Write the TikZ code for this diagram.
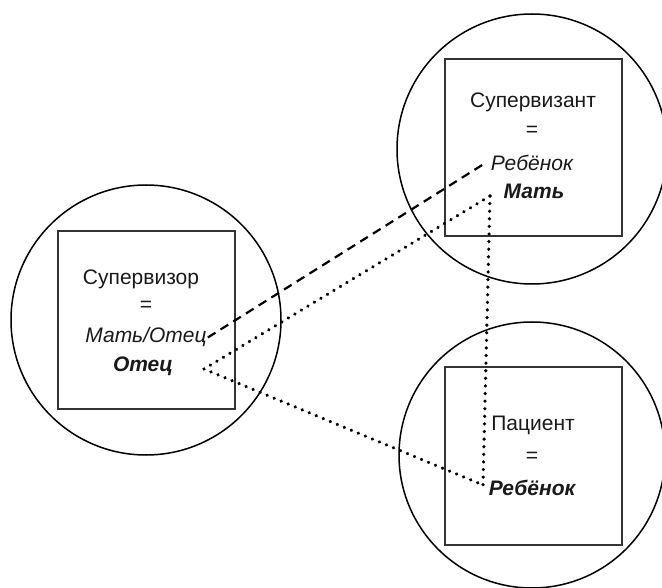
\documentclass[tikz,border=0pt]{standalone}
\usepackage{fontspec}
\setmainfont{Liberation Sans}
\usetikzlibrary{decorations.markings}
\tikzset{
  ring/.style={draw,circle,line width=1.5pt,inner sep=0pt,minimum size=#1},
  frame/.style={draw=black!80,line width=2pt,inner sep=0pt,minimum size=177pt},
  lbl/.style={anchor=base,inner sep=1pt,text=black!90,font=\fontsize{21}{25}\selectfont},
  dashlink/.style={line width=2.2pt,dash pattern=on 9pt off 6pt},
  dotlink/.style={decoration={markings,
      mark=between positions 0 and 1 step 7.6pt with {\fill circle (1.8pt);}},
    decorate}
}
\begin{document}
\begin{tikzpicture}[x=1pt,y=-1pt]
  \useasboundingbox (0,0) rectangle (662,588);
  \node[ring=270pt] (supring) at (146,320) {};
  \node[frame] (supbox) at (146,320) {};
  \node[ring=270pt] (sntring) at (532,149) {};
  \node[frame] (sntbox) at (533,148) {};
  \node[ring=266pt] (patring) at (532,455) {};
  \node[frame] (patbox) at (533,456) {};

  \node[lbl] (sup) at (141,285) {Супервизор};
  \node[lbl] (supeq) at (146,312) {=};
  \node[lbl] (supmf) at (146,343) {\itshape Мать/Отец};
  \node[lbl] (supf) at (143,372) {\bfseries\itshape Отец};

  \node[lbl] (snt) at (533,108) {Супервизант};
  \node[lbl] (snteq) at (532,137) {=};
  \node[lbl] (sntc) at (532,171) {\itshape Ребёнок};
  \node[lbl] (sntm) at (534,199) {\bfseries\itshape Мать};

  \node[lbl] (pat) at (533,430) {Пациент};
  \node[lbl] (pateq) at (532,462) {=};
  \node[lbl] (patc) at (532,495) {\bfseries\itshape Ребёнок};

  \coordinate (fpt) at (204,369);
  \coordinate (mpt) at (490,196);
  \coordinate (cpt) at (483,485);

  \draw[dashlink] (supmf.east) -- ([xshift=-5pt]sntc.west);
  \path[dotlink] (mpt) -- (fpt);
  \path[dotlink] (fpt) -- (cpt);
  \path[dotlink] (mpt) -- (cpt);
\end{tikzpicture}
\end{document}
